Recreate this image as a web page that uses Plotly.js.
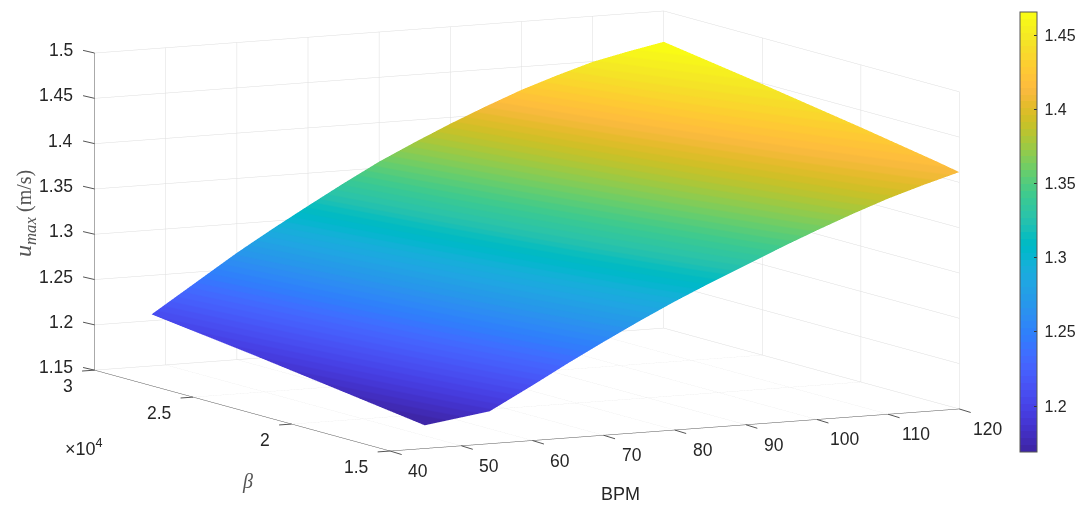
<!DOCTYPE html>
<html>
<head>
<meta charset="utf-8">
<script src="https://cdn.plot.ly/plotly-3.0.1.min.js"></script>
<style>html,body{margin:0;padding:0;background:#fff}#chart{width:1083px;height:506px}</style>
</head>
<body>
<div id="chart"></div>
<script>
var bpmValues = [48, 54, 60, 65, 70, 75, 80, 85, 90, 95, 100, 105, 110, 115, 120];
var bpmFirstRow = [54, 54, 60, 65, 70, 75, 80, 85, 90, 95, 100, 105, 110, 115, 120];
var betaValues = [15000, 16140, 20000, 25000, 30000];
var uMax = [
  [1.1858, 1.1858, 1.2108, 1.2324, 1.2530, 1.2729, 1.2918, 1.3094, 1.3260, 1.3429, 1.3588, 1.3739, 1.3880, 1.4002, 1.4114],
  [1.1670, 1.1905, 1.2161, 1.2378, 1.2585, 1.2786, 1.2977, 1.3153, 1.3320, 1.3488, 1.3647, 1.3796, 1.3936, 1.4055, 1.4163],
  [1.1786, 1.2044, 1.2319, 1.2540, 1.2750, 1.2956, 1.3153, 1.3332, 1.3501, 1.3668, 1.3825, 1.3969, 1.4102, 1.4212, 1.4311],
  [1.1934, 1.2215, 1.2502, 1.2730, 1.2951, 1.3165, 1.3368, 1.3550, 1.3722, 1.3887, 1.4042, 1.4179, 1.4306, 1.4404, 1.4491],
  [1.2070, 1.2375, 1.2680, 1.2915, 1.3140, 1.3360, 1.3570, 1.3755, 1.3930, 1.4093, 1.4246, 1.4377, 1.4497, 1.4583, 1.4660]
];
var bpmTicks = [40, 50, 60, 70, 80, 90, 100, 110, 120];
var betaTicks = [15000, 20000, 25000, 30000];
var betaTickLabels = ['1.5', '2', '2.5', '3'];
var zTicks = [1.15, 1.2, 1.25, 1.3, 1.35, 1.4, 1.45, 1.5];
var zTickLabels = ['1.15', '1.2', '1.25', '1.3', '1.35', '1.4', '1.45', '1.5'];
var cbTicks = [1.2, 1.25, 1.3, 1.35, 1.4, 1.45];
var parula = [
[.2422,.1504,.6603],[.2504,.1650,.7076],[.2578,.1818,.7511],[.2647,.1978,.7952],[.2706,.2147,.8364],[.2751,.2342,.8710],[.2783,.2559,.8991],[.2803,.2782,.9221],
[.2813,.3006,.9414],[.2810,.3228,.9579],[.2795,.3447,.9717],[.2760,.3667,.9829],[.2699,.3892,.9906],[.2602,.4123,.9952],[.2440,.4358,.9988],[.2206,.4603,.9973],
[.1963,.4847,.9892],[.1834,.5074,.9798],[.1786,.5289,.9682],[.1764,.5499,.9520],[.1687,.5703,.9359],[.1540,.5902,.9218],[.1460,.6091,.9079],[.1380,.6276,.8973],
[.1248,.6459,.8883],[.1113,.6635,.8763],[.0952,.6798,.8598],[.0689,.6948,.8394],[.0297,.7082,.8163],[.0036,.7203,.7917],[.0067,.7312,.7660],[.0433,.7411,.7394],
[.0964,.7500,.7120],[.1408,.7584,.6842],[.1717,.7670,.6554],[.1938,.7758,.6251],[.2161,.7843,.5923],[.2470,.7918,.5567],[.2906,.7973,.5188],[.3406,.8008,.4789],
[.3909,.8029,.4354],[.4456,.8024,.3909],[.5044,.7993,.3480],[.5616,.7942,.3045],[.6174,.7876,.2612],[.6720,.7793,.2227],[.7242,.7698,.1910],[.7738,.7598,.1646],
[.8203,.7498,.1535],[.8634,.7406,.1596],[.9035,.7330,.1774],[.9393,.7288,.2100],[.9728,.7298,.2394],[.9956,.7434,.2371],[.9970,.7659,.2199],[.9952,.7893,.2028],
[.9892,.8136,.1885],[.9786,.8386,.1766],[.9676,.8639,.1643],[.9610,.8890,.1537],[.9597,.9135,.1423],[.9628,.9373,.1265],[.9691,.9606,.1064],[.9769,.9839,.0805]
];
var colorscale = [];
parula.forEach(function (c, i) {
  var col = 'rgb(' + c.map(function (v) { return Math.round(v * 255); }).join(',') + ')';
  colorscale.push([i / parula.length, col]);
  colorscale.push([(i + 1) / parula.length, col]);
});
var gridX = betaValues.map(function (b, r) { return r === 0 ? bpmFirstRow : bpmValues; });
var gridY = betaValues.map(function (b) { return bpmValues.map(function () { return b; }); });
var ink = '#262626';
var sans = 'Liberation Sans, Arial, sans-serif';
var serif = 'Liberation Serif, Times New Roman, serif';
var tickFont = {family: sans, size: 17.5, color: ink};

var sceneAnn = [];
function tickMark(x, y, z, ax, ay) {
  sceneAnn.push({x: x, y: y, z: z, text: ' ', showarrow: true, arrowhead: 0, arrowwidth: 1,
    arrowcolor: '#555555', standoff: 0, startstandoff: 0, ax: ax, ay: ay, font: {size: 1}});
}
bpmTicks.forEach(function (v) {
  tickMark(v, 15000, 1.15, 13, 4);
  sceneAnn.push({x: v, y: 15000, z: 1.15, text: String(v), showarrow: false, font: tickFont,
    xanchor: 'center', yanchor: 'middle', xshift: 28, yshift: -20});
});
betaTicks.forEach(function (v, i) {
  tickMark(40, v, 1.15, -14, 1);
  sceneAnn.push({x: 40, y: v, z: 1.15, text: betaTickLabels[i], showarrow: false, font: tickFont,
    xanchor: 'right', yanchor: 'middle', xshift: -20, yshift: -16});
});
zTicks.forEach(function (v, i) {
  tickMark(40, 30000, v, -13, -3);
  sceneAnn.push({x: 40, y: 30000, z: v, text: zTickLabels[i], showarrow: false, font: tickFont,
    xanchor: 'right', yanchor: 'middle', xshift: -20, yshift: 3});
});

var axisBase = {
  showbackground: false, showgrid: true, gridcolor: '#dddddd', gridwidth: 1,
  showline: true, linecolor: '#555555', linewidth: 1,
  ticks: '', showticklabels: false, zeroline: false, showspikes: false, title: {text: ''}
};
var eyeNorm = 4;
var layout = {
  width: 1083, height: 506, margin: {l: 0, r: 0, t: 0, b: 0},
  paper_bgcolor: '#fff', showlegend: false,
  scene: {
    domain: {x: [0, 0.973], y: [0.087, 1]},
    aspectmode: 'manual', aspectratio: {x: 2.777, y: 2.775, z: 1.387},
    camera: {
      projection: {type: 'orthographic'},
      up: {x: 0, y: 0, z: 1}, center: {x: 0, y: 0, z: 0},
      eye: {x: -0.4566 * eyeNorm, y: -0.8783 * eyeNorm, z: 0.1422 * eyeNorm}
    },
    xaxis: Object.assign({}, axisBase, {range: [40, 120], tickmode: 'array', tickvals: bpmTicks}),
    yaxis: Object.assign({}, axisBase, {range: [15000, 30000], tickmode: 'array', tickvals: betaTicks}),
    zaxis: Object.assign({}, axisBase, {range: [1.15, 1.5], tickmode: 'array', tickvals: zTicks}),
    annotations: sceneAnn
  },
  annotations: [
    {xref: 'paper', yref: 'paper', x: 620 / 1083, y: 1 - 494 / 506, text: 'BPM', showarrow: false,
      font: {family: sans, size: 18, color: ink}, xanchor: 'center', yanchor: 'middle'},
    {xref: 'paper', yref: 'paper', x: 247 / 1083, y: 1 - 481 / 506, text: '<i>β</i>', showarrow: false,
      font: {family: serif, size: 20, color: '#555555'}, xanchor: 'center', yanchor: 'middle'},
    {xref: 'paper', yref: 'paper', x: 84 / 1083, y: 1 - 447 / 506, text: '×10<sup>4</sup>', showarrow: false,
      font: {family: sans, size: 18, color: ink}, xanchor: 'center', yanchor: 'middle'},
    {xref: 'paper', yref: 'paper', x: 25 / 1083, y: 1 - 214 / 506,
      text: '<span style="font-size:24px;font-style:italic">u<sub>max</sub></span>\u00a0(m/s)', showarrow: false,
      textangle: -90, font: {family: serif, size: 20, color: '#555555'}, xanchor: 'center', yanchor: 'middle'}
  ]
};
var trace = {
  type: 'surface', x: gridX, y: gridY, z: uMax,
  colorscale: colorscale, cmin: 1.169, cmax: 1.4655,
  lighting: {ambient: 1, diffuse: 0, specular: 0, fresnel: 0, roughness: 1},
  hoverinfo: 'skip', showscale: true,
  contours: {x: {show: false}, y: {show: false}, z: {show: false}},
  colorbar: {
    x: 1020 / 1083, xanchor: 'left', xpad: 0, y: 1 - 12 / 506, yanchor: 'top', ypad: 0,
    thicknessmode: 'pixels', thickness: 17, lenmode: 'pixels', len: 440,
    outlinecolor: '#555555', outlinewidth: 1,
    tickmode: 'array', tickvals: cbTicks, ticktext: cbTicks.map(function (v) { return '\u2009' + v; }),
    ticks: 'inside', ticklen: 3, tickcolor: '#333333', tickwidth: 1,
    tickfont: {family: sans, size: 16, color: ink}
  }
};
Plotly.newPlot('chart', [trace], layout, {displayModeBar: false});
</script>
</body>
</html>
